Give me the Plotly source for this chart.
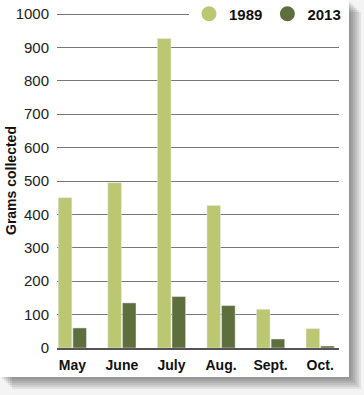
import plotly.graph_objects as go

months = ["May", "June", "July", "Aug.", "Sept.", "Oct."]
grams_1989 = [450, 495, 927, 427, 116, 58]
grams_2013 = [60, 135, 154, 127, 27, 6]
y_ticks = [0, 100, 200, 300, 400, 500, 600, 700, 800, 900, 1000]

c1989 = "#bcc771"
c2013 = "#5e6e3d"

W, H = 364, 395
L, R, T, B = 57, 339, 11, 348  # plot area in px
YMAX = 1009

def px(x):
    return (x - L) / (R - L)

def py(y):
    return (B - y) / (B - T)

fig = go.Figure()
fig.add_trace(go.Bar(x=list(range(len(months))), y=grams_1989, marker_color=c1989,
                     showlegend=False, name="1989"))
fig.add_trace(go.Bar(x=list(range(len(months))), y=grams_2013, marker_color=c2013,
                     showlegend=False, name="2013"))
fig.add_trace(go.Scatter(x=[None], y=[None], mode="markers", name="<b>1989</b>",
                         marker=dict(symbol="circle", size=15, color=c1989)))
fig.add_trace(go.Scatter(x=[None], y=[None], mode="markers", name="<b>2013</b>",
                         marker=dict(symbol="circle", size=15, color=c2013)))

shapes = []
cx0, cy0, cx1, cy1 = 0, 0, 349, 377
for off in [2, 4, 6, 8, 10, 12]:
    shapes.append(dict(type="rect", xref="paper", yref="paper", layer="below",
                       x0=px(cx0 + off), x1=px(cx1 + off), y0=py(cy1 + off), y1=py(cy0 + off),
                       fillcolor="rgba(0,0,0,0.075)", line=dict(width=0)))
shapes.append(dict(type="rect", xref="paper", yref="paper", layer="below",
                   x0=px(cx0 - 5), x1=px(cx1), y0=py(cy1), y1=py(cy0 - 5),
                   fillcolor="white", line=dict(width=0)))

fig.update_layout(
    width=W, height=H,
    margin=dict(l=L, r=W - R, t=T, b=H - B, pad=0, autoexpand=False),
    paper_bgcolor="#f4f4f4",
    plot_bgcolor="rgba(0,0,0,0)",
    barmode="group", bargap=0.41, bargroupgap=0.07,
    font=dict(family="Liberation Sans, Arial", size=14, color="#222"),
    shapes=shapes,
    showlegend=True,
    legend=dict(orientation="h", x=px(346), xanchor="right", y=py(14), yanchor="middle",
                bgcolor="white", font=dict(size=15, color="#111", family="Liberation Sans, Arial"),
                itemwidth=30, tracegroupgap=0),
    annotations=[dict(text="<b>Grams collected</b>", xref="paper", yref="paper",
                      x=px(11), y=py(180), textangle=-90, showarrow=False,
                      font=dict(size=14, color="#111", family="Liberation Sans, Arial"),
                      xanchor="center", yanchor="middle")],
)
fig.update_xaxes(tickvals=list(range(len(months))),
                 ticktext=["<b>%s</b>" % m for m in months],
                 range=[-0.31, 5.38], showgrid=False, showline=True, linecolor="#555",
                 linewidth=2, ticks="", zeroline=False, ticklabelstandoff=3,
                 tickfont=dict(family="Liberation Sans, Arial", size=14, color="#111"))
fig.update_yaxes(range=[0, YMAX], tickvals=y_ticks, showgrid=True, gridcolor="#777",
                 gridwidth=1, zeroline=False, ticks="", ticklabelstandoff=7,
                 tickfont=dict(size=15, color="#222"))

fig.write_html("out.html", config={"displayModeBar": False},
               post_script="document.body.style.margin='0';")
